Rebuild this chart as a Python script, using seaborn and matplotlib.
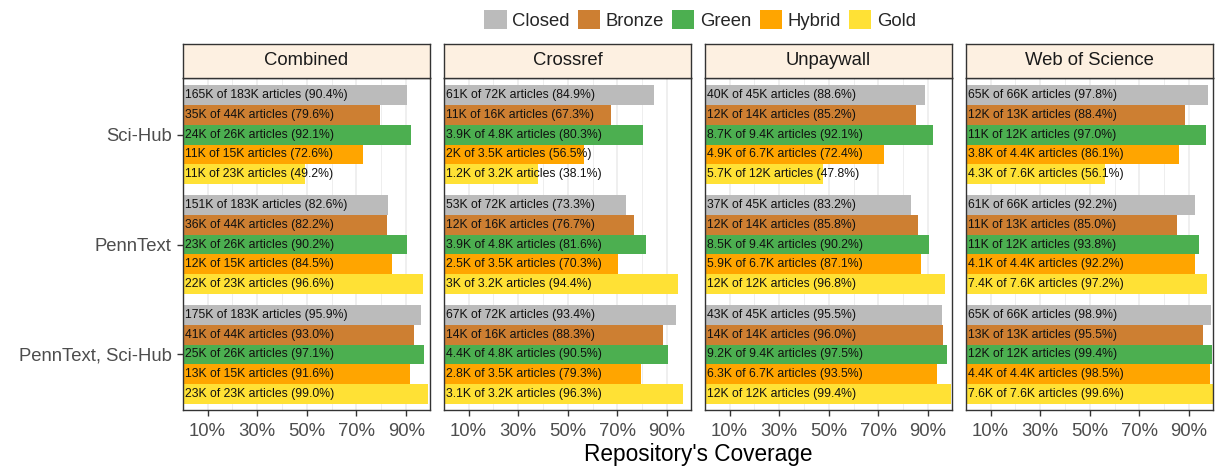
"""Cobertura dos repositórios por tipo de acesso aberto."""
import matplotlib
matplotlib.use('Agg')
import matplotlib.pyplot as plt
from matplotlib.patches import Patch
from matplotlib.ticker import FixedLocator, PercentFormatter
import pandas as pd
import seaborn as sns

# categorias
repos = ['Combined', 'Crossref', 'Unpaywall', 'Web of Science']
sources = ['Sci-Hub', 'PennText', 'PennText, Sci-Hub']
oa_types = ['Closed', 'Bronze', 'Green', 'Hybrid', 'Gold']
oa_colors = ['#bbbbbb', '#cd7f32', '#4caf50', '#ffa500', '#ffe135']

# percentuais (fonte por fonte, na ordem dos tipos)
pct_combined = [90.4, 79.6, 92.1, 72.6, 49.2,
                82.6, 82.2, 90.2, 84.5, 96.6,
                95.9, 93.0, 97.1, 91.6, 99.0]
pct_crossref = [84.9, 67.3, 80.3, 56.5, 38.1,
                73.3, 76.7, 81.6, 70.3, 94.4,
                93.4, 88.3, 90.5, 79.3, 96.3]
pct_unpaywall = [88.6, 85.2, 92.1, 72.4, 47.8,
                 83.2, 85.8, 90.2, 87.1, 96.8,
                 95.5, 96.0, 97.5, 93.5, 99.4]
pct_wos = [97.8, 88.4, 97.0, 86.1, 56.1,
           92.2, 85.0, 93.8, 92.2, 97.2,
           98.9, 95.5, 99.4, 98.5, 99.6]

# contagens "encontrados of total"
cnt_combined = ['165K of 183K', '35K of 44K', '24K of 26K', '11K of 15K', '11K of 23K',
                '151K of 183K', '36K of 44K', '23K of 26K', '12K of 15K', '22K of 23K',
                '175K of 183K', '41K of 44K', '25K of 26K', '13K of 15K', '23K of 23K']
cnt_crossref = ['61K of 72K', '11K of 16K', '3.9K of 4.8K', '2K of 3.5K', '1.2K of 3.2K',
                '53K of 72K', '12K of 16K', '3.9K of 4.8K', '2.5K of 3.5K', '3K of 3.2K',
                '67K of 72K', '14K of 16K', '4.4K of 4.8K', '2.8K of 3.5K', '3.1K of 3.2K']
cnt_unpaywall = ['40K of 45K', '12K of 14K', '8.7K of 9.4K', '4.9K of 6.7K', '5.7K of 12K',
                 '37K of 45K', '12K of 14K', '8.5K of 9.4K', '5.9K of 6.7K', '12K of 12K',
                 '43K of 45K', '14K of 14K', '9.2K of 9.4K', '6.3K of 6.7K', '12K of 12K']
cnt_wos = ['65K of 66K', '12K of 13K', '11K of 12K', '3.8K of 4.4K', '4.3K of 7.6K',
           '61K of 66K', '11K of 13K', '11K of 12K', '4.1K of 4.4K', '7.4K of 7.6K',
           '65K of 66K', '13K of 13K', '12K of 12K', '4.4K of 4.4K', '7.6K of 7.6K']

pcts = [pct_combined, pct_crossref, pct_unpaywall, pct_wos]
cnts = [cnt_combined, cnt_crossref, cnt_unpaywall, cnt_wos]

# tabela longa
linhas = []
for repo, pct, cnt in zip(repos, pcts, cnts):
    for j, src in enumerate(sources):
        for i, oa in enumerate(oa_types):
            k = j * 5 + i
            linhas.append({'repo': repo, 'source': src, 'oa': oa, 'pct': pct[k],
                           'label': f'{cnt[k]} articles ({pct[k]:.1f}%)'})
df = pd.DataFrame(linhas)

sns.set_theme(style='white')
plt.rcParams['font.family'] = ['Liberation Sans', 'DejaVu Sans']

fig, axes = plt.subplots(1, 4, figsize=(12.15, 4.7), dpi=100, sharey=True)
fig.subplots_adjust(left=182.7 / 1215, right=1213.2 / 1215,
                    bottom=1 - 410 / 470, top=1 - 78 / 470, wspace=0.0545)

palette = dict(zip(oa_types, oa_colors))
for n, (ax, repo) in enumerate(zip(axes, repos)):
    sub = df[df['repo'] == repo]
    sns.barplot(data=sub, y='source', x='pct', hue='oa', order=sources,
                hue_order=oa_types, palette=palette, orient='h', width=0.9,
                linewidth=0, saturation=1, legend=False, ax=ax, zorder=2)

    # rótulos dentro das barras
    for i, cont in enumerate(ax.containers):
        for j, bar in enumerate(cont):
            lbl = sub[(sub['source'] == sources[j]) & (sub['oa'] == oa_types[i])]['label'].iloc[0]
            ax.annotate(lbl, xy=(0, bar.get_y() + bar.get_height() / 2),
                        xytext=(1.8, 0), textcoords='offset points',
                        ha='left', va='center', fontsize=8.8, color='#111111', zorder=3)

    ax.set_xlim(0, 99.7)
    ax.set_ylim(2.505, -0.515)
    ax.xaxis.set_major_locator(FixedLocator([10, 30, 50, 70, 90]))
    ax.xaxis.set_minor_locator(FixedLocator([0, 20, 40, 60, 80, 100]))
    ax.xaxis.set_major_formatter(PercentFormatter(decimals=0))
    ax.grid(which='major', axis='x', color='#ebebeb', linewidth=1.1, zorder=0)
    ax.grid(which='minor', axis='x', color='#ebebeb', linewidth=0.6, zorder=0)
    ax.set_axisbelow(True)
    ax.set_xlabel('')
    ax.set_ylabel('')
    for sp in ax.spines.values():
        sp.set_color('#333333')
        sp.set_linewidth(1.0)
    ax.tick_params(axis='x', which='major', length=4, width=1, color='#333333',
                   labelsize=13.3, labelcolor='#4d4d4d', pad=5, bottom=True)
    ax.tick_params(axis='x', which='minor', length=0)
    if n == 0:
        ax.tick_params(axis='y', length=4, width=1, color='#333333',
                       labelsize=13.3, labelcolor='#4d4d4d', pad=4, left=True)
    else:
        ax.tick_params(axis='y', length=0)

    # faixa do título do painel
    pos = ax.get_position()
    strip = fig.add_axes([pos.x0, 1 - 78 / 470, pos.width, 34.5 / 470])
    strip.set_facecolor('#fdf0e1')
    strip.set_xticks([])
    strip.set_yticks([])
    for sp in strip.spines.values():
        sp.set_color('#333333')
        sp.set_linewidth(1.0)
    strip.text(0.5, 0.5, repo, ha='center', va='center', fontsize=13.3, color='#1a1a1a',
               transform=strip.transAxes)

fig.text(698 / 1215, 1 - 455 / 470, "Repository's Coverage", ha='center', va='center',
         fontsize=16.3, color='black')

handles = [Patch(facecolor=c, edgecolor='none', label=t) for t, c in zip(oa_types, oa_colors)]
fig.legend(handles=handles, loc='center', bbox_to_anchor=(700 / 1215, 1 - 20 / 470),
           ncol=5, frameon=False, fontsize=13.3, handlelength=1.2, handleheight=1.2,
           handletextpad=0.3, columnspacing=0.45, borderpad=0)

fig.savefig('out.png', dpi=100)
